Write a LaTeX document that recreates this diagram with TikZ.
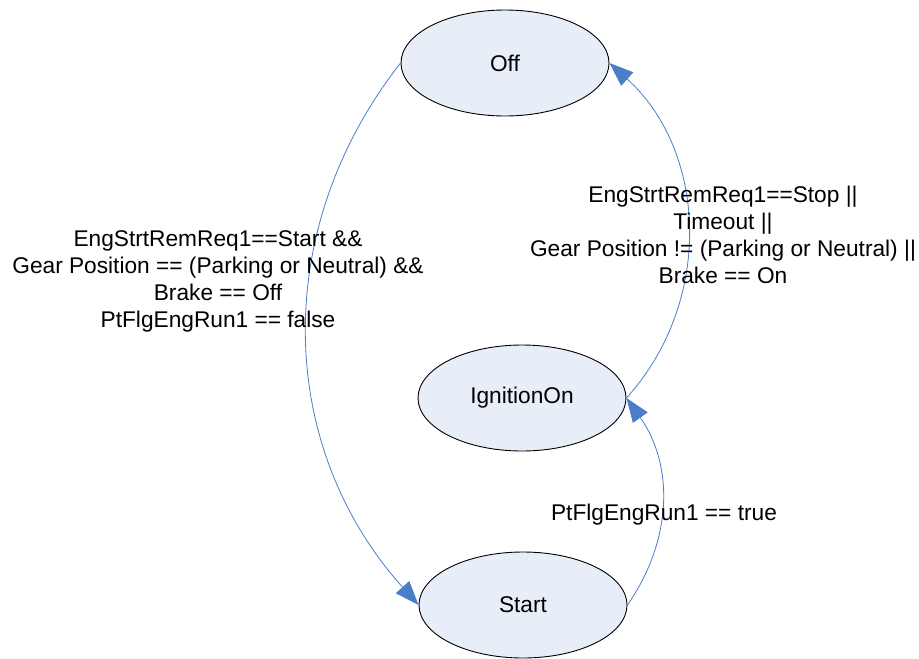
\documentclass[tikz,border=0pt]{standalone}
\usepackage{fontspec}
\setmainfont{Liberation Sans}
\usetikzlibrary{shapes.geometric,arrows.meta}
\definecolor{ovalfill}{RGB}{232,238,247}
\definecolor{linkblue}{RGB}{74,126,200}
\begin{document}
\begin{tikzpicture}[x=1pt,y=-1pt,
  font=\fontsize{22.7}{27}\selectfont,
  stateoval/.style={draw,ellipse,fill=ovalfill,line width=0.9pt,minimum width=208pt,minimum height=106pt,inner sep=0pt},
  trans/.style={draw=linkblue,line width=0.8pt,-{Triangle[length=24pt,width=18pt,fill=linkblue]}},
  cond/.style={align=center,inner sep=0pt}]
\useasboundingbox (0,0) rectangle (919,659);
\node[stateoval] (off) at (505,63) {Off};
\node[stateoval] (ign) at (522,398) {IgnitionOn};
\node[stateoval] (start) at (523,605) {Start};
\draw[trans] (off.west) to[bend right=40] (start.west);
\draw[trans] (ign.east) to[bend right=45] (off.east);
\draw[trans] (start.east) to[bend right=35] (ign.east);
\node[cond] (lblstart) at (218,281) {EngStrtRemReq1==Start \&\&\\Gear Position == (Parking or Neutral) \&\&\\Brake == Off\\PtFlgEngRun1 == false};
\node[cond] (lbloff) at (723,235) {EngStrtRemReq1==Stop ||\\Timeout ||\\Gear Position != (Parking or Neutral) ||\\Brake == On};
\node[cond] (lblign) at (664,515) {PtFlgEngRun1 == true};
\end{tikzpicture}
\end{document}
